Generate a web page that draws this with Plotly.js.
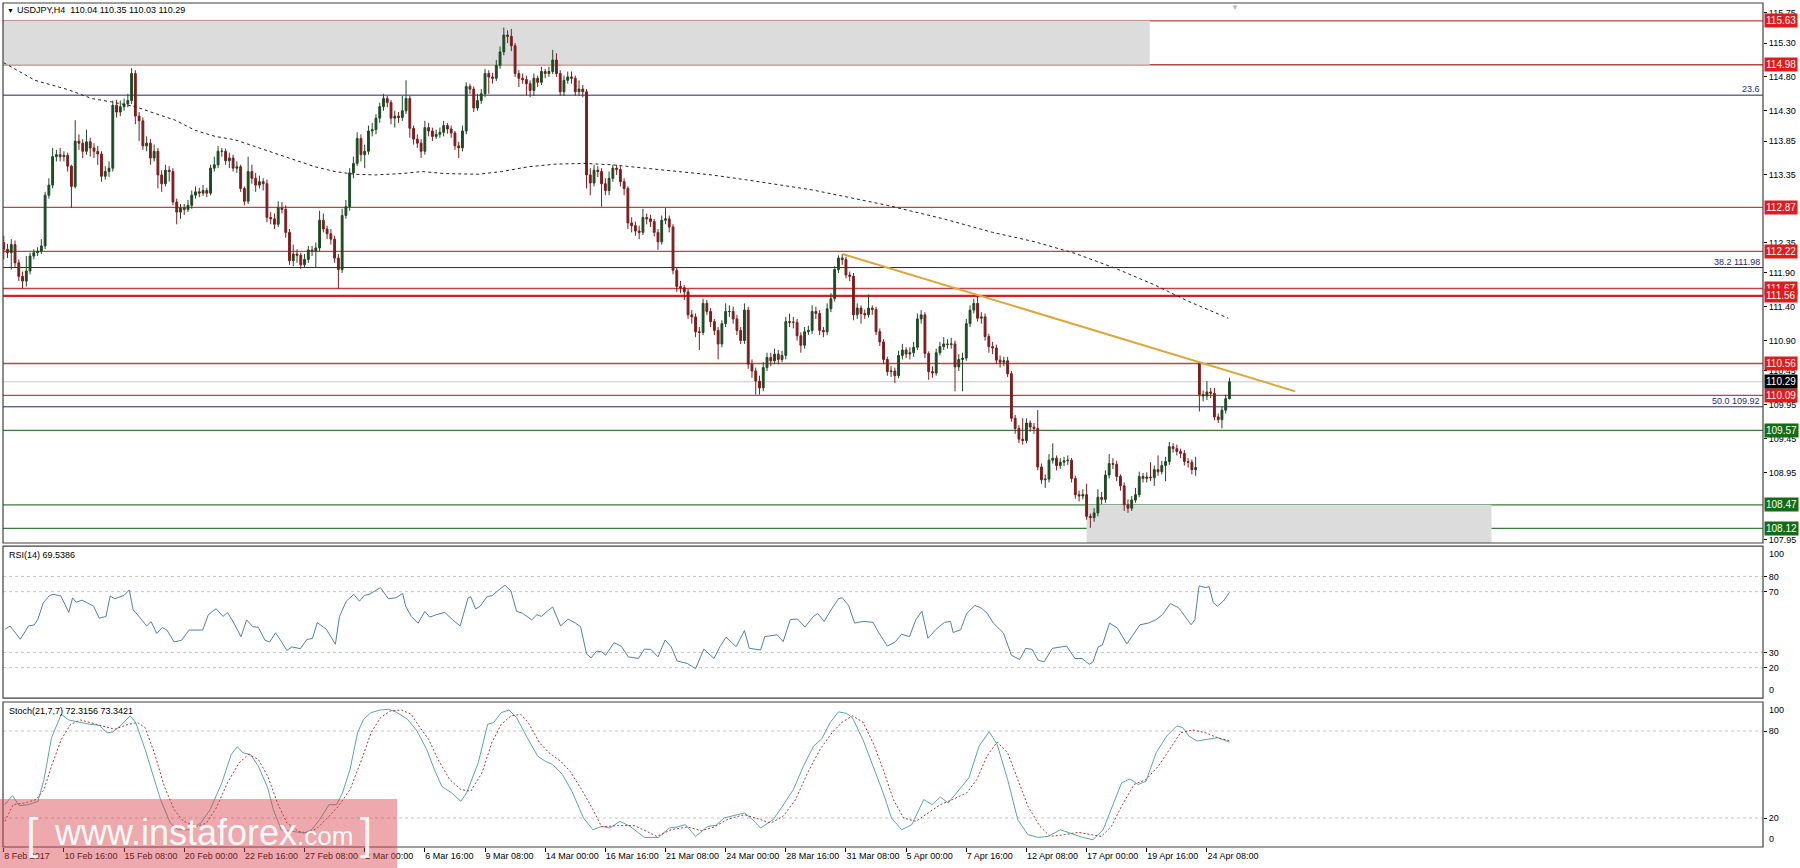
<!DOCTYPE html>
<html><head><meta charset="utf-8">
<script src="https://cdn.plot.ly/plotly-3.0.1.min.js"></script>
<style>html,body{margin:0;padding:0;background:#fff;}#chart{width:1800px;height:868px;}</style>
</head><body><div id="chart"></div>
<script>
// ---------- DATA (USDJPY H4) ----------
const opens = [
112.35,112.25,112.20,112.32,112.05,111.85,111.78,111.93,112.15,112.20,
112.22,112.30,113.05,113.20,113.62,113.65,113.62,113.64,113.48,113.18,
113.85,113.82,113.70,113.84,113.75,113.70,113.66,113.33,113.40,113.45,
114.38,114.28,114.36,114.40,114.45,114.85,114.22,114.15,113.78,113.82,
113.60,113.70,113.35,113.22,113.42,113.40,112.95,112.80,112.86,112.84,
112.90,113.05,113.10,113.08,113.12,113.08,113.45,113.50,113.70,113.70,
113.56,113.60,113.45,113.47,113.15,112.96,113.40,113.30,113.20,113.25,
113.22,112.72,112.70,112.62,112.86,112.84,112.50,112.08,112.18,112.16,
112.02,112.10,112.24,112.22,112.27,112.68,112.55,112.48,112.40,112.12,
111.95,112.75,112.88,113.38,113.52,113.89,113.65,113.70,114.00,114.02,
114.19,114.36,114.48,114.42,114.19,114.22,114.20,114.30,114.48,114.04,
113.88,113.82,113.70,114.05,114.00,113.92,113.95,113.98,114.08,114.03,
113.97,113.78,113.75,114.00,114.66,114.62,114.34,114.45,114.55,114.85,
114.80,114.78,114.97,115.17,115.42,115.40,115.26,114.85,114.78,114.76,
114.70,114.60,114.78,114.72,114.88,114.85,114.88,115.05,114.85,114.58,
114.75,114.80,114.78,114.58,114.62,114.58,113.35,113.23,113.42,113.40,
113.22,113.12,113.30,113.45,113.43,113.25,113.15,112.64,112.60,112.52,
112.50,112.72,112.70,112.66,112.50,112.36,112.68,112.70,112.58,111.94,
111.70,111.68,111.62,111.28,111.25,111.03,111.02,111.45,111.33,111.18,
111.05,110.85,111.15,111.33,111.33,111.22,111.05,110.90,111.35,110.55,
110.45,110.30,110.20,110.50,110.65,110.60,110.70,110.62,110.68,111.18,
111.17,111.17,110.97,110.83,111.03,111.05,111.33,111.30,111.05,111.03,
111.37,111.52,111.95,112.12,112.10,111.87,111.85,111.28,111.38,111.30,
111.28,111.38,111.36,111.03,110.88,110.62,110.44,110.45,110.38,110.68,
110.76,110.70,110.72,110.80,111.22,111.28,110.71,110.44,110.42,110.72,
110.81,110.85,110.84,110.85,110.51,110.62,110.64,111.15,111.35,111.45,
111.23,111.25,110.96,110.81,110.79,110.61,110.58,110.60,110.41,109.75,
109.60,109.44,109.42,109.68,109.62,109.60,109.03,108.84,108.85,109.13,
109.16,109.05,109.10,109.12,109.13,108.86,108.62,108.60,108.62,108.30,
108.28,108.35,108.58,108.55,108.91,109.08,109.07,108.89,108.75,108.47,
108.42,108.54,108.62,108.89,108.86,108.88,108.87,108.99,108.96,109.05,
109.11,109.33,109.30,109.26,109.23,109.11,109.10,108.99,110.56,110.10,
110.08,110.14,110.12,109.77,109.73,109.87,110.04];
const highs = [
112.45,112.33,112.40,112.38,112.10,111.92,112.15,112.20,112.25,112.28,
112.40,113.10,113.30,113.75,113.72,113.75,113.70,113.68,113.50,114.16,
113.95,113.88,114.02,113.90,113.82,113.78,113.70,113.48,113.55,114.45,
114.46,114.45,114.48,114.55,114.93,114.90,114.28,114.20,113.92,113.88,
113.80,113.75,113.42,113.50,113.48,113.45,113.00,112.92,112.92,112.98,
113.12,113.18,113.16,113.20,113.16,113.50,113.62,113.78,113.75,113.74,
113.68,113.65,113.55,113.50,113.18,113.62,113.50,113.38,113.34,113.30,
113.28,112.80,112.78,112.96,112.95,112.90,112.55,112.32,112.25,112.20,
112.18,112.30,112.30,112.35,112.82,112.78,112.60,112.55,112.45,112.18,
112.85,112.98,113.45,113.62,113.98,113.95,113.80,114.08,114.12,114.25,
114.42,114.55,114.52,114.46,114.30,114.28,114.52,114.75,114.52,114.08,
113.95,113.88,114.15,114.12,114.05,114.02,114.05,114.15,114.12,114.08,
114.00,113.84,114.08,114.72,114.70,114.66,114.55,114.62,114.92,114.90,
114.86,115.05,115.25,115.53,115.49,115.51,115.30,114.90,114.85,114.82,
114.75,114.85,114.82,114.95,114.92,114.95,115.20,115.15,114.90,114.82,
114.88,114.88,114.82,114.75,114.68,114.62,113.45,113.50,113.48,113.45,
113.30,113.40,113.50,113.50,113.48,113.30,113.18,112.72,112.66,112.60,
112.85,112.78,112.76,112.70,112.55,112.75,112.86,112.75,112.62,111.98,
111.78,111.72,111.66,111.35,111.30,111.10,111.52,111.50,111.38,111.22,
111.10,111.20,111.45,111.42,111.40,111.28,111.10,111.45,111.40,110.62,
110.50,110.38,110.58,110.72,110.72,110.78,110.76,110.75,111.25,111.30,
111.25,111.22,111.02,111.10,111.12,111.42,111.40,111.35,111.10,111.45,
111.60,112.00,112.16,112.18,112.14,111.92,111.90,111.45,111.42,111.36,
111.58,111.42,111.40,111.08,110.92,110.66,110.52,110.50,110.75,110.85,
110.80,110.80,110.88,111.30,111.35,111.32,110.74,110.52,110.78,110.88,
110.95,110.92,110.94,110.90,110.70,110.72,111.22,111.42,111.52,111.57,
111.32,111.30,111.00,110.88,110.84,110.68,110.66,110.66,110.45,109.80,
109.65,109.75,109.75,109.72,109.68,109.87,109.08,108.92,109.22,109.38,
109.20,109.16,109.18,109.20,109.16,108.90,108.68,108.70,108.78,108.34,
108.42,108.70,108.66,108.98,109.22,109.16,109.12,108.92,108.80,108.55,
108.60,108.72,108.96,108.94,108.95,109.10,109.05,109.20,109.12,109.18,
109.40,109.38,109.36,109.30,109.28,109.16,109.14,109.18,110.58,110.16,
110.30,110.20,110.20,109.82,109.92,110.10,110.35];
const lows = [
112.10,112.12,111.95,111.98,111.78,111.67,111.70,111.88,112.10,112.15,
112.18,112.25,113.00,113.15,113.55,113.55,113.55,113.40,112.86,113.15,
113.72,113.60,113.65,113.62,113.60,113.50,113.25,113.28,113.32,113.40,
114.20,114.22,114.30,114.35,114.40,114.10,113.85,113.72,113.70,113.50,
113.55,113.15,113.10,113.18,113.25,112.90,112.62,112.70,112.76,112.80,
112.85,113.00,113.02,113.04,113.02,113.05,113.40,113.45,113.62,113.50,
113.45,113.40,113.38,113.10,112.90,112.92,113.22,113.10,113.15,113.12,
112.65,112.62,112.55,112.58,112.78,112.42,112.02,112.00,112.05,111.96,
111.98,112.05,112.15,111.98,112.22,112.50,112.40,112.32,112.05,111.67,
111.90,112.70,112.82,113.30,113.48,113.55,113.45,113.65,113.92,113.95,
114.12,114.30,114.35,114.10,114.05,114.12,114.15,114.25,113.90,113.80,
113.75,113.60,113.65,113.92,113.85,113.88,113.90,113.92,113.96,113.90,
113.72,113.60,113.70,113.95,114.55,114.28,114.30,114.40,114.50,114.55,
114.70,114.74,114.92,115.12,115.30,115.18,114.80,114.65,114.70,114.53,
114.50,114.52,114.65,114.68,114.78,114.80,114.84,114.80,114.52,114.52,
114.70,114.70,114.52,114.52,114.50,113.15,113.05,113.18,113.32,112.88,
113.05,113.05,113.25,113.35,113.18,113.05,112.55,112.50,112.45,112.40,
112.46,112.62,112.58,112.44,112.24,112.32,112.62,112.50,111.88,111.62,
111.60,111.50,111.22,111.15,110.95,110.76,110.98,111.28,111.10,110.98,
110.62,110.80,111.10,111.25,111.15,110.98,110.85,110.85,110.48,110.35,
110.10,110.10,110.15,110.45,110.52,110.55,110.55,110.58,110.62,111.10,
111.08,110.90,110.72,110.78,110.98,111.00,111.22,110.98,110.95,110.98,
111.32,111.48,111.90,112.02,111.82,111.78,111.20,111.22,111.15,111.22,
111.24,111.28,110.98,110.82,110.55,110.38,110.36,110.27,110.34,110.62,
110.64,110.62,110.66,110.76,111.15,110.64,110.32,110.35,110.38,110.68,
110.76,110.78,110.78,110.15,110.45,110.15,110.60,111.10,111.30,111.18,
111.15,110.90,110.72,110.70,110.55,110.50,110.52,110.36,109.70,109.52,
109.38,109.36,109.38,109.55,109.52,108.98,108.78,108.72,108.80,109.08,
108.98,109.00,109.04,109.06,108.80,108.56,108.52,108.55,108.25,108.13,
108.22,108.30,108.48,108.50,108.86,109.00,108.82,108.68,108.38,108.35,
108.38,108.50,108.58,108.80,108.80,108.82,108.75,108.90,108.92,108.82,
109.06,109.24,109.20,109.16,109.05,109.02,108.92,108.90,109.85,110.00,
110.02,110.05,109.72,109.68,109.60,109.82,110.03];
const closes = [
112.25,112.20,112.32,112.05,111.85,111.78,111.93,112.15,112.20,112.22,
112.30,113.05,113.20,113.62,113.65,113.62,113.64,113.48,113.18,113.85,
113.82,113.70,113.84,113.75,113.70,113.66,113.33,113.40,113.45,114.38,
114.28,114.36,114.40,114.45,114.85,114.22,114.15,113.78,113.82,113.60,
113.70,113.35,113.22,113.42,113.40,112.95,112.80,112.86,112.84,112.90,
113.05,113.10,113.08,113.12,113.08,113.45,113.50,113.70,113.70,113.56,
113.60,113.45,113.47,113.15,112.96,113.40,113.30,113.20,113.25,113.22,
112.72,112.70,112.62,112.86,112.84,112.50,112.08,112.18,112.16,112.02,
112.10,112.24,112.22,112.27,112.68,112.55,112.48,112.40,112.12,111.95,
112.75,112.88,113.38,113.52,113.89,113.65,113.70,114.00,114.02,114.19,
114.36,114.48,114.42,114.19,114.22,114.20,114.30,114.48,114.04,113.88,
113.82,113.70,114.05,114.00,113.92,113.95,113.98,114.08,114.03,113.97,
113.78,113.75,114.00,114.66,114.62,114.34,114.45,114.55,114.85,114.80,
114.78,114.97,115.17,115.42,115.40,115.26,114.85,114.78,114.76,114.70,
114.60,114.78,114.72,114.88,114.85,114.88,115.05,114.85,114.58,114.75,
114.80,114.78,114.58,114.62,114.58,113.35,113.23,113.42,113.40,113.22,
113.12,113.30,113.45,113.43,113.25,113.15,112.64,112.60,112.52,112.50,
112.72,112.70,112.66,112.50,112.36,112.68,112.70,112.58,111.94,111.70,
111.68,111.62,111.28,111.25,111.03,111.02,111.45,111.33,111.18,111.05,
110.85,111.15,111.33,111.33,111.22,111.05,110.90,111.35,110.55,110.45,
110.30,110.20,110.50,110.65,110.60,110.70,110.62,110.68,111.18,111.17,
111.17,110.97,110.83,111.03,111.05,111.33,111.30,111.05,111.03,111.37,
111.52,111.95,112.12,112.10,111.87,111.85,111.28,111.38,111.30,111.28,
111.38,111.36,111.03,110.88,110.62,110.44,110.45,110.38,110.68,110.76,
110.70,110.72,110.80,111.22,111.28,110.71,110.44,110.42,110.72,110.81,
110.85,110.84,110.85,110.51,110.62,110.64,111.15,111.35,111.45,111.23,
111.25,110.96,110.81,110.79,110.61,110.58,110.60,110.41,109.75,109.60,
109.44,109.42,109.68,109.62,109.60,109.03,108.84,108.85,109.13,109.16,
109.05,109.10,109.12,109.13,108.86,108.62,108.60,108.62,108.30,108.28,
108.35,108.58,108.55,108.91,109.08,109.07,108.89,108.75,108.47,108.42,
108.54,108.62,108.89,108.86,108.88,108.87,108.99,108.96,109.05,109.11,
109.33,109.30,109.26,109.23,109.11,109.10,108.99,109.02,110.10,110.08,
110.14,110.12,109.77,109.73,109.87,110.04,110.29];

// moving average (dotted), vertices [bar, price]
const maPts = [[0,115.01],[8.3,114.75],[17.2,114.61],[23.4,114.48],[28.7,114.43],[35,114.36],[40.2,114.26],[45.6,114.16],[50.9,114.01],[56.2,113.92],[61.5,113.87],[66.8,113.77],[72.2,113.67],[77.5,113.57],[82.8,113.47],[88.1,113.40],[93.4,113.36],[98.8,113.35],[105.9,113.37],[111.2,113.40],[117.4,113.37],[126.2,113.36],[132.4,113.40],[139.5,113.47],[146.6,113.51],[154.6,113.52],[161.7,113.50],[170.6,113.45],[179.4,113.40],[188.3,113.35],[197.2,113.28],[206,113.20],[214.9,113.13],[220.2,113.07],[235,112.90],[250,112.70],[263,112.50],[274.3,112.36],[284.9,112.19],[295.6,111.97],[306.2,111.72],[315.1,111.48],[325.7,111.23]];

// trend line [bar, price]
const trendPts = [[223.1,112.18],[343.4,110.15]];

// RSI(14) vertices [bar, value]
const rsiPts = [[0.3,45.2],[1.7,47.4],[4.4,38.7],[6.6,47.4],[8.1,48.1],[9.1,51.9],[10.5,62.6],[12.2,67.5],[13.2,68.2],[15.2,67.1],[17.3,56.3],[18.3,65.9],[19.3,63.0],[20.8,64.4],[23.9,60.4],[25.4,52.5],[27.2,53.7],[28.3,67.1],[29.5,65.3],[32.0,67.5],[33.4,71.1],[34.4,58.1],[35.6,54.8],[36.6,51.4],[38.0,47.4],[39.2,50.3],[40.7,42.5],[42.2,46.5],[43.4,44.7],[45.3,36.9],[47.3,38.0],[49.3,44.7],[52.9,44.7],[54.4,54.8],[56.5,58.8],[58.3,53.7],[59.5,56.3],[61.0,50.3],[63.1,40.3],[64.6,51.4],[66.2,47.0],[67.7,46.5],[69.5,38.0],[70.7,36.9],[72.3,42.9],[73.5,38.5],[75.3,31.3],[76.6,33.6],[78.9,32.5],[80.6,38.5],[82.1,39.2],[83.4,49.6],[85.8,45.2],[88.2,35.4],[89.3,53.7],[91.1,63.7],[93.1,68.2],[94.6,63.7],[95.9,67.5],[97.2,68.2],[100.2,72.6],[102.3,65.3],[104.3,66.0],[106.1,68.8],[106.9,60.4],[108.4,53.7],[110.2,49.2],[112.0,57.0],[113.3,53.2],[115.0,54.8],[117.3,56.3],[119.4,51.4],[121.4,47.4],[123.5,65.9],[124.2,66.6],[125.5,58.6],[126.7,60.4],[128.5,66.6],[130.0,67.5],[131.3,70.4],[133.3,74.2],[134.9,70.4],[136.4,57.0],[137.9,55.9],[140.4,51.4],[141.8,54.8],[143.0,53.7],[144.5,57.0],[146.0,59.9],[148.1,47.4],[150.1,51.9],[152.1,49.2],[153.4,47.0],[155.0,29.1],[156.2,26.4],[157.7,30.9],[159.0,30.4],[160.1,28.2],[162.3,36.4],[164.2,34.2],[166.1,27.1],[168.8,26.0],[170.4,32.2],[172.1,32.0],[174.0,27.1],[175.9,38.2],[177.5,33.8],[179.1,24.4],[181.8,22.7],[184.0,19.3],[186.2,32.2],[188.9,26.0],[190.5,33.8],[192.1,40.0],[194.8,33.8],[197.0,44.4],[198.3,32.7],[201.3,31.6],[202.4,40.4],[205.7,41.6],[207.3,37.1],[209.2,51.6],[211.1,52.0],[213.1,46.7],[215.4,53.8],[216.5,55.6],[218.2,50.4],[219.8,57.1],[222.0,65.3],[223.0,66.0],[224.7,60.9],[226.3,49.3],[228.5,50.4],[231.2,49.8],[232.8,42.7],[235.0,34.2],[237.1,36.9],[238.8,42.0],[240.9,40.4],[242.6,51.6],[244.2,57.1],[245.8,39.3],[248.0,45.3],[250.2,49.8],[251.8,50.4],[252.5,43.1],[254.5,44.9],[256.1,55.6],[258.3,60.9],[259.9,59.3],[261.5,56.0],[263.2,49.3],[265.9,42.7],[268.0,28.2],[270.2,25.3],[271.8,32.7],[273.5,32.0],[275.1,24.9],[276.7,23.8],[278.9,32.7],[281.2,33.8],[282.7,34.2],[284.9,26.0],[286.8,26.0],[288.7,22.2],[289.7,23.8],[291.1,33.8],[292.2,34.9],[294.1,49.3],[296.2,46.0],[298.7,35.6],[300.0,40.0],[302.2,48.2],[304.4,49.3],[306.5,51.6],[308.2,54.9],[310.3,62.2],[312.5,59.3],[314.1,53.8],[315.8,48.2],[316.8,51.6],[317.9,73.8],[319.6,72.7],[320.6,73.3],[321.7,62.7],[322.8,60.4],[324.4,63.8],[326.0,69.5]];

// Stochastic(21,7,7) main and signal vertices [bar, value]
const stochMainPts = [[0.3,29.2],[2.3,35.5],[4.1,28.5],[6.6,29.2],[9.1,31.5],[10.7,46.5],[12.7,75.4],[15.3,91.5],[17.3,87.6],[19.8,86.2],[22.9,84.6],[25.4,83.9],[27.5,78.8],[29.0,79.3],[31.0,83.5],[33.6,90.4],[35.1,85.8],[37.6,67.3],[39.7,48.8],[41.7,32.7],[44.3,16.5],[46.3,11.9],[49.3,11.9],[52.4,16.5],[54.9,25.8],[58.0,44.2],[60.5,63.8],[62.1,69.2],[63.6,65.0],[65.6,63.8],[67.7,55.8],[70.2,40.8],[71.7,25.8],[73.8,11.9],[76.8,10.8],[79.9,9.6],[81.9,11.9],[84.0,18.8],[86.5,29.2],[88.5,29.2],[90.1,37.3],[92.1,53.5],[94.1,78.8],[95.7,88.1],[97.7,92.7],[100.2,94.5],[102.3,95.0],[104.3,93.2],[107.4,88.1],[109.9,80.0],[112.5,67.3],[114.5,53.5],[116.5,41.9],[119.1,37.3],[121.6,31.5],[123.1,37.3],[126.2,58.1],[128.7,84.6],[130.3,85.8],[132.3,92.7],[134.4,94.5],[136.4,89.2],[139.0,76.5],[142.0,62.7],[144.0,59.2],[146.0,56.9],[148.6,50.0],[151.1,38.5],[154.2,20.0],[156.7,11.9],[159.0,14.2],[161.2,13.1],[163.9,17.7],[166.6,14.2],[170.4,6.6],[174.2,6.6],[177.0,13.1],[179.1,13.8],[181.3,15.4],[184.0,7.3],[187.2,14.2],[189.4,14.9],[191.6,20.0],[193.7,21.2],[197.0,23.5],[199.2,18.8],[201.3,13.1],[204.6,18.8],[206.8,26.9],[210.0,39.6],[212.7,55.8],[215.4,69.6],[217.6,74.7],[219.8,85.8],[222.0,93.2],[224.1,92.2],[225.7,89.2],[228.5,74.2],[231.2,55.8],[233.9,37.3],[236.1,20.0],[238.8,11.9],[241.5,15.4],[244.7,32.7],[246.9,29.2],[249.1,34.5],[251.2,30.4],[254.5,40.8],[256.7,47.7],[259.4,69.6],[262.1,79.5],[264.2,70.8],[267.0,46.5],[269.7,18.8],[272.4,8.5],[275.1,6.6],[277.8,7.3],[281.0,11.9],[283.8,9.6],[287.0,6.6],[289.7,5.0],[292.4,11.9],[295.2,30.4],[297.3,44.2],[299.5,47.0],[301.7,43.1],[303.8,45.4],[306.5,65.0],[309.3,76.5],[312.0,83.5],[313.6,82.3],[315.2,76.5],[317.4,73.1],[320.6,74.2],[322.8,75.4],[326.0,72.3]];
const stochSigPts = [[0.3,17.7],[2.5,29.2],[5.6,30.4],[8.6,32.7],[10.7,39.6],[12.7,55.8],[15.3,74.2],[17.8,84.6],[20.4,87.6],[23.9,85.3],[26.5,83.5],[29.5,81.2],[33.1,84.6],[35.6,85.8],[37.6,82.3],[40.2,63.8],[42.7,41.9],[45.3,25.8],[47.8,17.7],[51.4,14.2],[53.9,16.5],[56.5,26.9],[59.5,44.2],[62.6,58.1],[65.1,63.8],[67.7,60.4],[70.2,48.8],[72.8,30.4],[75.3,16.5],[78.4,10.8],[80.9,9.6],[83.4,13.1],[86.5,21.2],[89.0,28.1],[92.1,39.6],[95.2,60.4],[97.7,78.8],[100.2,89.2],[102.8,93.8],[105.8,94.5],[108.4,91.5],[110.4,83.5],[113.0,74.2],[115.5,60.4],[118.6,46.5],[121.6,39.6],[124.2,38.5],[127.2,51.2],[129.8,71.9],[132.3,84.6],[134.9,90.4],[137.5,91.5],[139.5,85.8],[142.5,71.9],[145.0,65.0],[148.1,59.2],[150.6,52.3],[153.7,39.6],[156.7,25.8],[159.0,14.0],[163.4,14.7],[167.7,14.7],[171.0,10.8],[173.7,7.3],[177.5,11.9],[181.8,13.8],[185.6,11.2],[188.9,13.8],[192.7,19.3],[197.0,22.3],[200.8,19.3],[204.0,16.5],[207.3,21.2],[210.6,32.7],[213.8,51.2],[217.1,67.3],[220.3,78.8],[223.0,86.2],[225.7,90.4],[228.5,86.2],[231.2,71.9],[233.9,53.5],[236.6,32.7],[239.3,20.0],[242.6,17.7],[245.8,23.5],[249.1,29.2],[252.3,32.7],[256.1,37.3],[258.8,46.5],[261.5,62.7],[264.2,72.4],[267.0,65.0],[269.7,46.5],[272.4,28.1],[275.6,14.2],[278.3,7.3],[282.1,8.5],[285.9,10.1],[289.2,8.5],[291.9,7.3],[294.6,14.2],[297.3,28.1],[300.6,43.1],[303.8,46.5],[307.1,55.8],[310.3,68.5],[313.0,78.8],[316.3,80.7],[319.6,78.8],[322.8,75.4],[326.0,73.3]];

// horizontal levels
const redLevels = [115.63, 114.98, 112.87, 112.22, 111.67, 111.56, 110.56, 110.09];
const greenLevels = [109.57, 108.47, 108.12];
const fibLevels = [114.53, 111.98, 109.92, 107.85];
const fibLabels = ['23.6', '38.2 111.98', '50.0 109.92', '61.8 107.85'];
const lastPrice = 110.29;
// zones [barStart, barEnd, priceLow, priceHigh]
const zoneTop = [0, 304.8, 114.98, 115.63];
const zoneBottom = [288, 395.7, 107.80, 108.47];

// axes ticks
const tickBars = [0,16,32,48,64,80,96,112,128,144,160,176,192,208,224,240,256,272,288,304,320];
const tickLabels = ['8 Feb 2017','10 Feb 16:00','15 Feb 08:00','20 Feb 00:00','22 Feb 16:00','27 Feb 08:00','2 Mar 00:00','6 Mar 16:00','9 Mar 08:00','14 Mar 00:00','16 Mar 16:00','21 Mar 08:00','24 Mar 00:00','28 Mar 16:00','31 Mar 08:00','5 Apr 00:00','7 Apr 16:00','12 Apr 08:00','17 Apr 00:00','19 Apr 16:00','24 Apr 08:00'];
const priceTicks = [115.75,115.30,114.80,114.30,113.85,113.35,112.35,111.90,111.40,110.90,110.45,109.95,109.45,108.95,107.95];
const rsiLevels = [80,70,30,20];
const stochLevels = [80,20];

// ---------- CHART ----------
const FONT = 'Liberation Sans, Arial, sans-serif';
const bars = closes.map((_, i) => i);
const X0 = -0.2, X1 = 467.9;

const traces = [
  {type:'candlestick', x:bars, open:opens, high:highs, low:lows, close:closes,
   xaxis:'x', yaxis:'y', hoverinfo:'skip', whiskerwidth:0,
   increasing:{line:{color:'#1e4a24', width:1}, fillcolor:'#1e4a24'},
   decreasing:{line:{color:'#7a1f1f', width:1}, fillcolor:'#7a1f1f'}},
  {type:'scatter', mode:'lines', x:maPts.map(p=>p[0]), y:maPts.map(p=>p[1]), xaxis:'x', yaxis:'y',
   line:{color:'#222', width:1, dash:'3px,3px'}, hoverinfo:'skip'},
  {type:'scatter', mode:'lines', x:trendPts.map(p=>p[0]), y:trendPts.map(p=>p[1]), xaxis:'x', yaxis:'y',
   line:{color:'#dba73a', width:2}, hoverinfo:'skip'},
  {type:'scatter', mode:'lines', x:rsiPts.map(p=>p[0]), y:rsiPts.map(p=>p[1]), xaxis:'x', yaxis:'y2',
   line:{color:'#4f82a8', width:1}, hoverinfo:'skip'},
  {type:'scatter', mode:'lines', x:stochMainPts.map(p=>p[0]), y:stochMainPts.map(p=>p[1]), xaxis:'x', yaxis:'y3',
   line:{color:'#5aa6a6', width:1}, hoverinfo:'skip'},
  {type:'scatter', mode:'lines', x:stochSigPts.map(p=>p[0]), y:stochSigPts.map(p=>p[1]), xaxis:'x', yaxis:'y3',
   line:{color:'#a83a3a', width:1, dash:'2px,2px'}, hoverinfo:'skip'}
];

const shapes = [];
shapes.push({type:'rect', xref:'x', yref:'y', x0:X0, x1:zoneTop[1], y0:zoneTop[2], y1:zoneTop[3], fillcolor:'#dcdcdc', line:{width:0}, layer:'below'});
shapes.push({type:'rect', xref:'x', yref:'y', x0:zoneBottom[0], x1:zoneBottom[1], y0:zoneBottom[2], y1:zoneBottom[3], fillcolor:'#dcdcdc', line:{width:0}, layer:'below'});
shapes.push({type:'line', xref:'paper', yref:'y', x0:0, x1:1, y0:lastPrice, y1:lastPrice, line:{color:'#c8c8c8', width:1}, layer:'below'});
fibLevels.forEach(v => shapes.push({type:'line', xref:'paper', yref:'y', x0:0, x1:1, y0:v, y1:v, line:{color:'#25255e', width:1}, layer:'below'}));
greenLevels.forEach(v => shapes.push({type:'line', xref:'paper', yref:'y', x0:0, x1:1, y0:v, y1:v, line:{color:'#3d7a3d', width:1.3}, layer:'below'}));
redLevels.forEach(v => shapes.push({type:'line', xref:'paper', yref:'y', x0:0, x1:1, y0:v, y1:v,
  line:{color: v===111.56 ? '#d42020' : '#b84646', width: v===111.56 ? 2.2 : 1.3}, layer:'below'}));
rsiLevels.forEach(v => shapes.push({type:'line', xref:'paper', yref:'y2', x0:0, x1:1, y0:v, y1:v, line:{color:'#c4c4c4', width:1, dash:'3px,3px'}, layer:'below'}));
stochLevels.forEach(v => shapes.push({type:'line', xref:'paper', yref:'y3', x0:0, x1:1, y0:v, y1:v, line:{color:'#c4c4c4', width:1, dash:'3px,3px'}, layer:'below'}));
['y','y2','y3'].forEach(a => shapes.push({type:'rect', xref:'paper', yref:a+' domain', x0:0, x1:1, y0:0, y1:1, line:{color:'#404040', width:1.2}, fillcolor:'rgba(0,0,0,0)', layer:'above'}));
// watermark box
shapes.push({type:'rect', xref:'paper', yref:'paper', x0:-0.002, x1:0.2239, y0:-0.026, y1:0.0569, fillcolor:'rgba(214,64,74,0.45)', line:{width:0}, layer:'above'});

const ann = [];
ann.push({xref:'paper', yref:'paper', x:0, y:0.9917, xanchor:'left', yanchor:'middle', xshift:2, showarrow:false,
  text:'▼', font:{family:FONT, size:7, color:'#000'}});
ann.push({xref:'paper', yref:'paper', x:0, y:0.9917, xanchor:'left', yanchor:'middle', xshift:12, showarrow:false,
  text:'USDJPY,H4&nbsp;&nbsp;110.04 110.35 110.03 110.29', font:{family:FONT, size:9, color:'#000'}});
ann.push({xref:'x', yref:'paper', x:327.5, y:1, xanchor:'center', yanchor:'top', yshift:2, showarrow:false,
  text:'▼', font:{family:FONT, size:8, color:'#b8b8b8'}});
ann.push({xref:'paper', yref:'y2 domain', x:0, y:1, xanchor:'left', yanchor:'top', xshift:4, yshift:-2, showarrow:false,
  text:'RSI(14) 69.5386', font:{family:FONT, size:9, color:'#000'}});
ann.push({xref:'paper', yref:'y3 domain', x:0, y:1, xanchor:'left', yanchor:'top', xshift:4, yshift:-2, showarrow:false,
  text:'Stoch(21,7,7) 72.3156 73.3421', font:{family:FONT, size:9, color:'#000'}});
const boxLabel = (v, bg) => ann.push({xref:'paper', yref:'y', x:1, y:v, xanchor:'left', yanchor:'middle', xshift:1, showarrow:false,
  text:v.toFixed(2), bgcolor:bg, borderpad:1, font:{family:FONT, size:10, color:'#fff'}});
redLevels.forEach(v => boxLabel(v, '#e01b1b'));
greenLevels.forEach(v => boxLabel(v, '#146c14'));
boxLabel(lastPrice, '#000');
fibLevels.forEach((v, k) => ann.push({xref:'paper', yref:'y', x:1, y:v, xanchor:'right', yanchor:'bottom', xshift:-1, yshift:-1, showarrow:false,
  text:fibLabels[k], font:{family:FONT, size:9, color:'#2a2a6e'}}));
['y2','y3'].forEach(a => {
  ann.push({xref:'paper', yref:a+' domain', x:1, y:1, xanchor:'left', yanchor:'top', xshift:4, yshift:-1, showarrow:false, text:'100', font:{family:FONT, size:9, color:'#000'}});
  ann.push({xref:'paper', yref:a+' domain', x:1, y:0, xanchor:'left', yanchor:'bottom', xshift:4, yshift:1, showarrow:false, text:'0', font:{family:FONT, size:9, color:'#000'}});
});
// watermark text
const WM = 'Liberation Sans, Arial, sans-serif';
ann.push({xref:'paper', yref:'paper', x:0.0165, y:0.016, xanchor:'center', yanchor:'middle', showarrow:false,
  text:'[', font:{family:WM, size:44, color:'rgba(255,255,255,0.9)'}});
ann.push({xref:'paper', yref:'paper', x:0.2065, y:0.016, xanchor:'center', yanchor:'middle', showarrow:false,
  text:']', font:{family:WM, size:44, color:'rgba(255,255,255,0.9)'}});
ann.push({xref:'paper', yref:'paper', x:0.0278, y:0.017, xanchor:'left', yanchor:'middle', showarrow:false,
  text:'www.instaforex<span style="font-size:26px">.com</span>', font:{family:WM, size:36, color:'rgba(255,255,255,0.95)'}});

const axisCommon = {showgrid:false, zeroline:false, showline:false, side:'right', ticks:'outside', ticklen:3, tickcolor:'#000', tickwidth:1,
  tickfont:{family:FONT, size:9, color:'#000'}, fixedrange:true, automargin:false};

const layout = {
  width:1800, height:868,
  margin:{l:3, r:37, t:3, b:21},
  paper_bgcolor:'#fff', plot_bgcolor:'#fff',
  showlegend:false, hovermode:false,
  font:{family:FONT, size:9, color:'#000'},
  xaxis:{range:[X0, X1], anchor:'y3', showgrid:false, zeroline:false, showline:false,
    tickmode:'array', tickvals:tickBars, ticktext:tickLabels, ticks:'outside', ticklen:4, tickcolor:'#000',
    tickangle:0, automargin:false,
    ticklabelposition:'outside right', tickfont:{family:FONT, size:9, color:'#000'},
    rangeslider:{visible:false}, fixedrange:true},
  yaxis:Object.assign({}, axisCommon, {domain:[0.3602, 1], range:[107.905, 115.8935], tickmode:'array', tickvals:priceTicks, ticktext:priceTicks.map(v=>v.toFixed(2))}),
  yaxis2:Object.assign({}, axisCommon, {domain:[0.1765, 0.3566], range:[0, 100], tickmode:'array', tickvals:rsiLevels}),
  yaxis3:Object.assign({}, axisCommon, {domain:[0, 0.1718], range:[0, 100], tickmode:'array', tickvals:stochLevels}),
  shapes:shapes, annotations:ann
};

Plotly.newPlot('chart', traces, layout, {staticPlot:true, displayModeBar:false});
</script>
</body></html>
